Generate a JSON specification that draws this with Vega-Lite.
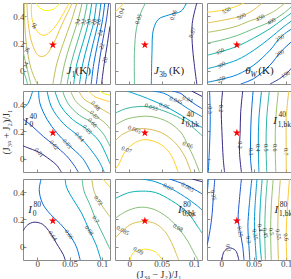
{
"$schema":"https://vega.github.io/schema/vega-lite/v6.json",
"padding":{"left":1,"top":2,"right":0,"bottom":0},
"datasets":{
"c":[
{"p":"A","k":"a1","v":42,"x":-0.001,"y":0.5},{"p":"A","k":"a1","v":42,"x":0.002,"y":0.47},{"p":"A","k":"a1","v":42,"x":0.012,"y":0.445},{"p":"A","k":"a1","v":42,"x":0.025,"y":0.455},{"p":"A","k":"a1","v":42,"x":0.035,"y":0.5},
{"p":"A","k":"a2","v":40,"x":-0.009,"y":0.5},{"p":"A","k":"a2","v":40,"x":-0.008,"y":0.38},{"p":"A","k":"a2","v":40,"x":0,"y":0.29},{"p":"A","k":"a2","v":40,"x":0.01,"y":0.26},{"p":"A","k":"a2","v":40,"x":0.025,"y":0.31},{"p":"A","k":"a2","v":40,"x":0.04,"y":0.42},{"p":"A","k":"a2","v":40,"x":0.049,"y":0.5},
{"p":"A","k":"a3","v":38,"x":-0.016,"y":0.5},{"p":"A","k":"a3","v":38,"x":-0.014,"y":0.35},{"p":"A","k":"a3","v":38,"x":-0.008,"y":0.2},{"p":"A","k":"a3","v":38,"x":0.002,"y":0.11},{"p":"A","k":"a3","v":38,"x":0.012,"y":0.11},{"p":"A","k":"a3","v":38,"x":0.025,"y":0.2},{"p":"A","k":"a3","v":38,"x":0.037,"y":0.33},{"p":"A","k":"a3","v":38,"x":0.054,"y":0.5},
{"p":"A","k":"a4","v":36,"x":-0.02,"y":0.5},{"p":"A","k":"a4","v":36,"x":-0.018,"y":0.25},{"p":"A","k":"a4","v":36,"x":-0.01,"y":0.02},{"p":"A","k":"a4","v":36,"x":0,"y":-0.1},
{"p":"A","k":"a4b","v":36,"x":0.024,"y":-0.1},{"p":"A","k":"a4b","v":36,"x":0.03,"y":0.05},{"p":"A","k":"a4b","v":36,"x":0.04,"y":0.2},{"p":"A","k":"a4b","v":36,"x":0.052,"y":0.36},{"p":"A","k":"a4b","v":36,"x":0.061,"y":0.5},
{"p":"A","k":"a5","v":34,"x":-0.022,"y":0.15},{"p":"A","k":"a5","v":34,"x":-0.02,"y":0.1},{"p":"A","k":"a5","v":34,"x":-0.014,"y":-0.02},{"p":"A","k":"a5","v":34,"x":-0.01,"y":-0.1},
{"p":"A","k":"a6","v":34,"x":0.036,"y":-0.1},{"p":"A","k":"a6","v":34,"x":0.042,"y":0.05},{"p":"A","k":"a6","v":34,"x":0.051,"y":0.2},{"p":"A","k":"a6","v":34,"x":0.062,"y":0.36},{"p":"A","k":"a6","v":34,"x":0.069,"y":0.5},
{"p":"A","k":"a7","v":32,"x":-0.022,"y":0},{"p":"A","k":"a7","v":32,"x":-0.018,"y":-0.05},{"p":"A","k":"a7","v":32,"x":-0.015,"y":-0.1},
{"p":"A","k":"a8","v":32,"x":0.046,"y":-0.1},{"p":"A","k":"a8","v":32,"x":0.052,"y":0.05},{"p":"A","k":"a8","v":32,"x":0.061,"y":0.2},{"p":"A","k":"a8","v":32,"x":0.071,"y":0.36},{"p":"A","k":"a8","v":32,"x":0.077,"y":0.5},
{"p":"A","k":"a9","v":30,"x":0.056,"y":-0.1},{"p":"A","k":"a9","v":30,"x":0.061,"y":0.05},{"p":"A","k":"a9","v":30,"x":0.07,"y":0.2},{"p":"A","k":"a9","v":30,"x":0.079,"y":0.36},{"p":"A","k":"a9","v":30,"x":0.084,"y":0.5},
{"p":"A","k":"a10","v":28,"x":0.065,"y":-0.1},{"p":"A","k":"a10","v":28,"x":0.07,"y":0.05},{"p":"A","k":"a10","v":28,"x":0.078,"y":0.2},{"p":"A","k":"a10","v":28,"x":0.087,"y":0.36},{"p":"A","k":"a10","v":28,"x":0.091,"y":0.5},
{"p":"A","k":"a11","v":26,"x":0.074,"y":-0.1},{"p":"A","k":"a11","v":26,"x":0.079,"y":0.05},{"p":"A","k":"a11","v":26,"x":0.086,"y":0.2},{"p":"A","k":"a11","v":26,"x":0.094,"y":0.36},{"p":"A","k":"a11","v":26,"x":0.098,"y":0.5},
{"p":"A","k":"a12","v":24,"x":0.083,"y":-0.1},{"p":"A","k":"a12","v":24,"x":0.087,"y":0.05},{"p":"A","k":"a12","v":24,"x":0.093,"y":0.2},{"p":"A","k":"a12","v":24,"x":0.1,"y":0.36},{"p":"A","k":"a12","v":24,"x":0.104,"y":0.5},
{"p":"A","k":"a13","v":22,"x":0.091,"y":-0.1},{"p":"A","k":"a13","v":22,"x":0.095,"y":0.05},{"p":"A","k":"a13","v":22,"x":0.1,"y":0.2},{"p":"A","k":"a13","v":22,"x":0.106,"y":0.36},{"p":"A","k":"a13","v":22,"x":0.11,"y":0.5},
{"p":"A","k":"a14","v":20,"x":0.099,"y":-0.1},{"p":"A","k":"a14","v":20,"x":0.103,"y":0.05},{"p":"A","k":"a14","v":20,"x":0.108,"y":0.2},{"p":"A","k":"a14","v":20,"x":0.112,"y":0.33},

{"p":"B","k":"b1","v":-0.04,"x":-0.022,"y":0.435},{"p":"B","k":"b1","v":-0.04,"x":-0.018,"y":0.45},{"p":"B","k":"b1","v":-0.04,"x":-0.012,"y":0.48},{"p":"B","k":"b1","v":-0.04,"x":-0.009,"y":0.5},
{"p":"B","k":"b2","v":-0.05,"x":0.008,"y":-0.1},{"p":"B","k":"b2","v":-0.05,"x":0.008,"y":0.14},{"p":"B","k":"b2","v":-0.05,"x":0.011,"y":0.31},{"p":"B","k":"b2","v":-0.05,"x":0.018,"y":0.43},{"p":"B","k":"b2","v":-0.05,"x":0.025,"y":0.5},
{"p":"B","k":"b3","v":-0.06,"x":0.034,"y":-0.1},{"p":"B","k":"b3","v":-0.06,"x":0.035,"y":0.14},{"p":"B","k":"b3","v":-0.06,"x":0.037,"y":0.3},{"p":"B","k":"b3","v":-0.06,"x":0.045,"y":0.38},{"p":"B","k":"b3","v":-0.06,"x":0.06,"y":0.41},{"p":"B","k":"b3","v":-0.06,"x":0.08,"y":0.44},{"p":"B","k":"b3","v":-0.06,"x":0.088,"y":0.5},
{"p":"B","k":"b4","v":-0.07,"x":0.104,"y":0.5},{"p":"B","k":"b4","v":-0.07,"x":0.097,"y":0.35},{"p":"B","k":"b4","v":-0.07,"x":0.097,"y":0.2},{"p":"B","k":"b4","v":-0.07,"x":0.1,"y":0.05},{"p":"B","k":"b4","v":-0.07,"x":0.104,"y":-0.1},

{"p":"C","k":"c1","v":550,"x":-0.022,"y":0.432},{"p":"C","k":"c1","v":550,"x":0,"y":0.445},{"p":"C","k":"c1","v":550,"x":0.02,"y":0.47},{"p":"C","k":"c1","v":550,"x":0.035,"y":0.5},
{"p":"C","k":"c2","v":500,"x":-0.022,"y":0.352},{"p":"C","k":"c2","v":500,"x":0,"y":0.37},{"p":"C","k":"c2","v":500,"x":0.02,"y":0.39},{"p":"C","k":"c2","v":500,"x":0.035,"y":0.41},{"p":"C","k":"c2","v":500,"x":0.05,"y":0.45},{"p":"C","k":"c2","v":500,"x":0.063,"y":0.5},
{"p":"C","k":"c3","v":450,"x":-0.022,"y":0.282},{"p":"C","k":"c3","v":450,"x":0,"y":0.3},{"p":"C","k":"c3","v":450,"x":0.025,"y":0.33},{"p":"C","k":"c3","v":450,"x":0.045,"y":0.37},{"p":"C","k":"c3","v":450,"x":0.065,"y":0.4},{"p":"C","k":"c3","v":450,"x":0.085,"y":0.45},{"p":"C","k":"c3","v":450,"x":0.098,"y":0.5},
{"p":"C","k":"c4","v":400,"x":-0.022,"y":0.202},{"p":"C","k":"c4","v":400,"x":0,"y":0.225},{"p":"C","k":"c4","v":400,"x":0.025,"y":0.26},{"p":"C","k":"c4","v":400,"x":0.05,"y":0.31},{"p":"C","k":"c4","v":400,"x":0.075,"y":0.36},{"p":"C","k":"c4","v":400,"x":0.095,"y":0.42},{"p":"C","k":"c4","v":400,"x":0.112,"y":0.49},
{"p":"C","k":"c5","v":350,"x":-0.022,"y":0.113},{"p":"C","k":"c5","v":350,"x":0,"y":0.14},{"p":"C","k":"c5","v":350,"x":0.025,"y":0.18},{"p":"C","k":"c5","v":350,"x":0.05,"y":0.24},{"p":"C","k":"c5","v":350,"x":0.075,"y":0.31},{"p":"C","k":"c5","v":350,"x":0.095,"y":0.38},{"p":"C","k":"c5","v":350,"x":0.112,"y":0.44},
{"p":"C","k":"c6","v":300,"x":-0.022,"y":0.013},{"p":"C","k":"c6","v":300,"x":0,"y":0.04},{"p":"C","k":"c6","v":300,"x":0.025,"y":0.08},{"p":"C","k":"c6","v":300,"x":0.05,"y":0.15},{"p":"C","k":"c6","v":300,"x":0.075,"y":0.24},{"p":"C","k":"c6","v":300,"x":0.095,"y":0.32},{"p":"C","k":"c6","v":300,"x":0.112,"y":0.38},
{"p":"C","k":"c7","v":250,"x":-0.022,"y":-0.088},{"p":"C","k":"c7","v":250,"x":0,"y":-0.065},{"p":"C","k":"c7","v":250,"x":0.025,"y":-0.03},{"p":"C","k":"c7","v":250,"x":0.05,"y":0.04},{"p":"C","k":"c7","v":250,"x":0.075,"y":0.15},{"p":"C","k":"c7","v":250,"x":0.092,"y":0.25},{"p":"C","k":"c7","v":250,"x":0.112,"y":0.32},
{"p":"C","k":"c8","v":200,"x":0.03,"y":-0.1},{"p":"C","k":"c8","v":200,"x":0.05,"y":-0.06},{"p":"C","k":"c8","v":200,"x":0.075,"y":0.04},{"p":"C","k":"c8","v":200,"x":0.092,"y":0.14},{"p":"C","k":"c8","v":200,"x":0.112,"y":0.23},
{"p":"C","k":"c9","v":150,"x":0.075,"y":-0.1},{"p":"C","k":"c9","v":150,"x":0.09,"y":-0.06},{"p":"C","k":"c9","v":150,"x":0.103,"y":-0.01},{"p":"C","k":"c9","v":150,"x":0.112,"y":0.04},

{"p":"D","k":"d1","v":0.61,"x":-0.022,"y":0.095},{"p":"D","k":"d1","v":0.61,"x":-0.017,"y":0.084},{"p":"D","k":"d1","v":0.61,"x":0.003,"y":0.045},{"p":"D","k":"d1","v":0.61,"x":0.02,"y":-0.01},{"p":"D","k":"d1","v":0.61,"x":0.03,"y":-0.05},{"p":"D","k":"d1","v":0.61,"x":0.037,"y":-0.1},
{"p":"D","k":"d2","v":0.62,"x":-0.022,"y":0.293},{"p":"D","k":"d2","v":0.62,"x":-0.008,"y":0.24},{"p":"D","k":"d2","v":0.62,"x":0.01,"y":0.16},{"p":"D","k":"d2","v":0.62,"x":0.026,"y":0.1},{"p":"D","k":"d2","v":0.62,"x":0.045,"y":0.02},{"p":"D","k":"d2","v":0.62,"x":0.058,"y":-0.06},{"p":"D","k":"d2","v":0.62,"x":0.063,"y":-0.1},
{"p":"D","k":"d3","v":0.63,"x":0.002,"y":0.5},{"p":"D","k":"d3","v":0.63,"x":0.004,"y":0.41},{"p":"D","k":"d3","v":0.63,"x":0.015,"y":0.29},{"p":"D","k":"d3","v":0.63,"x":0.03,"y":0.19},{"p":"D","k":"d3","v":0.63,"x":0.046,"y":0.11},{"p":"D","k":"d3","v":0.63,"x":0.07,"y":0},{"p":"D","k":"d3","v":0.63,"x":0.082,"y":-0.1},
{"p":"D","k":"d4","v":0.635,"x":-0.022,"y":0.37},{"p":"D","k":"d4","v":0.635,"x":-0.014,"y":0.41},{"p":"D","k":"d4","v":0.635,"x":-0.009,"y":0.47},{"p":"D","k":"d4","v":0.635,"x":-0.007,"y":0.5},
{"p":"D","k":"d5","v":0.64,"x":0.015,"y":0.5},{"p":"D","k":"d5","v":0.64,"x":0.022,"y":0.38},{"p":"D","k":"d5","v":0.64,"x":0.04,"y":0.26},{"p":"D","k":"d5","v":0.64,"x":0.065,"y":0.16},{"p":"D","k":"d5","v":0.64,"x":0.08,"y":0.08},{"p":"D","k":"d5","v":0.64,"x":0.095,"y":-0.02},{"p":"D","k":"d5","v":0.64,"x":0.103,"y":-0.1},
{"p":"D","k":"d6","v":0.65,"x":0.027,"y":0.5},{"p":"D","k":"d6","v":0.65,"x":0.036,"y":0.39},{"p":"D","k":"d6","v":0.65,"x":0.054,"y":0.29},{"p":"D","k":"d6","v":0.65,"x":0.077,"y":0.215},{"p":"D","k":"d6","v":0.65,"x":0.095,"y":0.13},{"p":"D","k":"d6","v":0.65,"x":0.105,"y":0.04},{"p":"D","k":"d6","v":0.65,"x":0.112,"y":-0.04},
{"p":"D","k":"d7","v":0.66,"x":0.039,"y":0.5},{"p":"D","k":"d7","v":0.66,"x":0.047,"y":0.41},{"p":"D","k":"d7","v":0.66,"x":0.065,"y":0.32},{"p":"D","k":"d7","v":0.66,"x":0.085,"y":0.265},{"p":"D","k":"d7","v":0.66,"x":0.102,"y":0.18},{"p":"D","k":"d7","v":0.66,"x":0.112,"y":0.09},
{"p":"D","k":"d8","v":0.67,"x":0.051,"y":0.5},{"p":"D","k":"d8","v":0.67,"x":0.06,"y":0.42},{"p":"D","k":"d8","v":0.67,"x":0.075,"y":0.36},{"p":"D","k":"d8","v":0.67,"x":0.088,"y":0.32},{"p":"D","k":"d8","v":0.67,"x":0.105,"y":0.26},{"p":"D","k":"d8","v":0.67,"x":0.112,"y":0.22},
{"p":"D","k":"d9","v":0.68,"x":0.064,"y":0.5},{"p":"D","k":"d9","v":0.68,"x":0.072,"y":0.44},{"p":"D","k":"d9","v":0.68,"x":0.09,"y":0.39},{"p":"D","k":"d9","v":0.68,"x":0.105,"y":0.35},{"p":"D","k":"d9","v":0.68,"x":0.112,"y":0.33},
{"p":"D","k":"d10","v":0.69,"x":0.079,"y":0.5},{"p":"D","k":"d10","v":0.69,"x":0.088,"y":0.46},{"p":"D","k":"d10","v":0.69,"x":0.105,"y":0.43},{"p":"D","k":"d10","v":0.69,"x":0.112,"y":0.42},
{"p":"D","k":"d11","v":0.7,"x":0.096,"y":0.5},{"p":"D","k":"d11","v":0.7,"x":0.103,"y":0.48},{"p":"D","k":"d11","v":0.7,"x":0.112,"y":0.47},

{"p":"E","k":"e1","v":0.07,"x":-0.022,"y":-0.08},{"p":"E","k":"e1","v":0.07,"x":-0.017,"y":-0.05},{"p":"E","k":"e1","v":0.07,"x":-0.005,"y":0.06},{"p":"E","k":"e1","v":0.07,"x":0.01,"y":0.12},{"p":"E","k":"e1","v":0.07,"x":0.026,"y":0.14},{"p":"E","k":"e1","v":0.07,"x":0.05,"y":0.1},{"p":"E","k":"e1","v":0.07,"x":0.065,"y":0.02},{"p":"E","k":"e1","v":0.07,"x":0.075,"y":-0.1},
{"p":"E","k":"e2","v":0.065,"x":-0.022,"y":0.13},{"p":"E","k":"e2","v":0.065,"x":-0.01,"y":0.18},{"p":"E","k":"e2","v":0.065,"x":0.008,"y":0.215},{"p":"E","k":"e2","v":0.065,"x":0.026,"y":0.22},{"p":"E","k":"e2","v":0.065,"x":0.05,"y":0.19},{"p":"E","k":"e2","v":0.065,"x":0.07,"y":0.12},{"p":"E","k":"e2","v":0.065,"x":0.085,"y":0.02},{"p":"E","k":"e2","v":0.065,"x":0.095,"y":-0.1},
{"p":"E","k":"e3","v":0.06,"x":-0.022,"y":0.247},{"p":"E","k":"e3","v":0.06,"x":-0.005,"y":0.29},{"p":"E","k":"e3","v":0.06,"x":0.015,"y":0.31},{"p":"E","k":"e3","v":0.06,"x":0.035,"y":0.31},{"p":"E","k":"e3","v":0.06,"x":0.06,"y":0.27},{"p":"E","k":"e3","v":0.06,"x":0.08,"y":0.19},{"p":"E","k":"e3","v":0.06,"x":0.09,"y":0.1},{"p":"E","k":"e3","v":0.06,"x":0.1,"y":0},{"p":"E","k":"e3","v":0.06,"x":0.108,"y":-0.1},
{"p":"E","k":"e4","v":0.055,"x":-0.022,"y":0.335},{"p":"E","k":"e4","v":0.055,"x":-0.005,"y":0.37},{"p":"E","k":"e4","v":0.055,"x":0.015,"y":0.385},{"p":"E","k":"e4","v":0.055,"x":0.034,"y":0.38},{"p":"E","k":"e4","v":0.055,"x":0.06,"y":0.34},{"p":"E","k":"e4","v":0.055,"x":0.085,"y":0.28},{"p":"E","k":"e4","v":0.055,"x":0.105,"y":0.2},{"p":"E","k":"e4","v":0.055,"x":0.112,"y":0.17},
{"p":"E","k":"e5","v":0.05,"x":-0.004,"y":0.5},{"p":"E","k":"e5","v":0.05,"x":0.02,"y":0.46},{"p":"E","k":"e5","v":0.05,"x":0.054,"y":0.39},{"p":"E","k":"e5","v":0.05,"x":0.08,"y":0.32},{"p":"E","k":"e5","v":0.05,"x":0.1,"y":0.26},{"p":"E","k":"e5","v":0.05,"x":0.112,"y":0.23},
{"p":"E","k":"e6","v":0.045,"x":0.036,"y":0.5},{"p":"E","k":"e6","v":0.045,"x":0.055,"y":0.48},{"p":"E","k":"e6","v":0.045,"x":0.072,"y":0.43},{"p":"E","k":"e6","v":0.045,"x":0.09,"y":0.37},{"p":"E","k":"e6","v":0.045,"x":0.112,"y":0.31},
{"p":"E","k":"e7","v":0.04,"x":0.066,"y":0.5},{"p":"E","k":"e7","v":0.04,"x":0.08,"y":0.48},{"p":"E","k":"e7","v":0.04,"x":0.09,"y":0.44},{"p":"E","k":"e7","v":0.04,"x":0.105,"y":0.39},{"p":"E","k":"e7","v":0.04,"x":0.112,"y":0.37},
{"p":"E","k":"e8","v":0.035,"x":0.096,"y":0.5},{"p":"E","k":"e8","v":0.035,"x":0.112,"y":0.46},

{"p":"F","k":"f1","v":0.3,"x":-0.018,"y":0.5},{"p":"F","k":"f1","v":0.3,"x":-0.017,"y":0.3},{"p":"F","k":"f1","v":0.3,"x":-0.018,"y":0.1},{"p":"F","k":"f1","v":0.3,"x":-0.02,"y":-0.1},
{"p":"F","k":"f2","v":0.2,"x":0.002,"y":0.5},{"p":"F","k":"f2","v":0.2,"x":0,"y":0.37},{"p":"F","k":"f2","v":0.2,"x":0.001,"y":0.2},{"p":"F","k":"f2","v":0.2,"x":0.003,"y":0},{"p":"F","k":"f2","v":0.2,"x":0.005,"y":-0.1},
{"p":"F","k":"f3","v":0.2,"x":0.033,"y":0.5},{"p":"F","k":"f3","v":0.2,"x":0.03,"y":0.35},{"p":"F","k":"f3","v":0.2,"x":0.029,"y":0.19},{"p":"F","k":"f3","v":0.2,"x":0.028,"y":0.05},{"p":"F","k":"f3","v":0.2,"x":0.031,"y":-0.1},
{"p":"F","k":"f4","v":0.3,"x":0.049,"y":0.5},{"p":"F","k":"f4","v":0.3,"x":0.046,"y":0.3},{"p":"F","k":"f4","v":0.3,"x":0.045,"y":0.1},{"p":"F","k":"f4","v":0.3,"x":0.045,"y":0},{"p":"F","k":"f4","v":0.3,"x":0.047,"y":-0.1},
{"p":"F","k":"f5","v":0.4,"x":0.062,"y":0.5},{"p":"F","k":"f5","v":0.4,"x":0.058,"y":0.3},{"p":"F","k":"f5","v":0.4,"x":0.057,"y":0.1},{"p":"F","k":"f5","v":0.4,"x":0.058,"y":-0.1},
{"p":"F","k":"f6","v":0.5,"x":0.074,"y":0.5},{"p":"F","k":"f6","v":0.5,"x":0.07,"y":0.3},{"p":"F","k":"f6","v":0.5,"x":0.069,"y":0.1},{"p":"F","k":"f6","v":0.5,"x":0.07,"y":-0.1},
{"p":"F","k":"f7","v":0.6,"x":0.088,"y":0.5},{"p":"F","k":"f7","v":0.6,"x":0.084,"y":0.3},{"p":"F","k":"f7","v":0.6,"x":0.083,"y":0.1},{"p":"F","k":"f7","v":0.6,"x":0.084,"y":-0.1},
{"p":"F","k":"f8","v":0.7,"x":0.104,"y":0.5},{"p":"F","k":"f8","v":0.7,"x":0.1,"y":0.3},{"p":"F","k":"f8","v":0.7,"x":0.1,"y":0.1},{"p":"F","k":"f8","v":0.7,"x":0.1,"y":-0.1},

{"p":"G","k":"g1","v":0.64,"x":-0.022,"y":0.115},{"p":"G","k":"g1","v":0.64,"x":-0.015,"y":0.16},{"p":"G","k":"g1","v":0.64,"x":-0.005,"y":0.18},{"p":"G","k":"g1","v":0.64,"x":0.008,"y":0.165},{"p":"G","k":"g1","v":0.64,"x":0.02,"y":0.1},{"p":"G","k":"g1","v":0.64,"x":0.03,"y":0.02},{"p":"G","k":"g1","v":0.64,"x":0.04,"y":-0.06},{"p":"G","k":"g1","v":0.64,"x":0.043,"y":-0.1},
{"p":"G","k":"g2","v":0.66,"x":0.006,"y":0.5},{"p":"G","k":"g2","v":0.66,"x":0.003,"y":0.42},{"p":"G","k":"g2","v":0.66,"x":0.008,"y":0.32},{"p":"G","k":"g2","v":0.66,"x":0.02,"y":0.24},{"p":"G","k":"g2","v":0.66,"x":0.035,"y":0.17},{"p":"G","k":"g2","v":0.66,"x":0.049,"y":0.09},{"p":"G","k":"g2","v":0.66,"x":0.06,"y":0},{"p":"G","k":"g2","v":0.66,"x":0.066,"y":-0.1},
{"p":"G","k":"g3","v":0.68,"x":0.043,"y":0.5},{"p":"G","k":"g3","v":0.68,"x":0.045,"y":0.44},{"p":"G","k":"g3","v":0.68,"x":0.055,"y":0.35},{"p":"G","k":"g3","v":0.68,"x":0.068,"y":0.25},{"p":"G","k":"g3","v":0.68,"x":0.08,"y":0.12},{"p":"G","k":"g3","v":0.68,"x":0.09,"y":0.02},{"p":"G","k":"g3","v":0.68,"x":0.098,"y":-0.1},
{"p":"G","k":"g4","v":0.7,"x":0.069,"y":0.5},{"p":"G","k":"g4","v":0.7,"x":0.072,"y":0.41},{"p":"G","k":"g4","v":0.7,"x":0.082,"y":0.3},{"p":"G","k":"g4","v":0.7,"x":0.09,"y":0.2},{"p":"G","k":"g4","v":0.7,"x":0.1,"y":0.1},{"p":"G","k":"g4","v":0.7,"x":0.11,"y":0},{"p":"G","k":"g4","v":0.7,"x":0.112,"y":-0.02},
{"p":"G","k":"g5","v":0.72,"x":0.084,"y":0.5},{"p":"G","k":"g5","v":0.72,"x":0.088,"y":0.4},{"p":"G","k":"g5","v":0.72,"x":0.1,"y":0.3},{"p":"G","k":"g5","v":0.72,"x":0.112,"y":0.22},
{"p":"G","k":"g6","v":0.74,"x":0.101,"y":0.5},{"p":"G","k":"g6","v":0.74,"x":0.112,"y":0.44},

{"p":"H","k":"h1","v":0.09,"x":0.001,"y":-0.1},{"p":"H","k":"h1","v":0.09,"x":0.006,"y":-0.045},{"p":"H","k":"h1","v":0.09,"x":0.014,"y":-0.03},{"p":"H","k":"h1","v":0.09,"x":0.025,"y":-0.02},{"p":"H","k":"h1","v":0.09,"x":0.04,"y":-0.04},{"p":"H","k":"h1","v":0.09,"x":0.051,"y":-0.1},
{"p":"H","k":"h2","v":0.085,"x":-0.022,"y":0.06},{"p":"H","k":"h2","v":0.085,"x":-0.01,"y":0.12},{"p":"H","k":"h2","v":0.085,"x":0.005,"y":0.17},{"p":"H","k":"h2","v":0.085,"x":0.023,"y":0.185},{"p":"H","k":"h2","v":0.085,"x":0.04,"y":0.17},{"p":"H","k":"h2","v":0.085,"x":0.055,"y":0.11},{"p":"H","k":"h2","v":0.085,"x":0.065,"y":0.03},{"p":"H","k":"h2","v":0.085,"x":0.072,"y":-0.05},{"p":"H","k":"h2","v":0.085,"x":0.076,"y":-0.1},
{"p":"H","k":"h3","v":0.08,"x":-0.022,"y":0.207},{"p":"H","k":"h3","v":0.08,"x":-0.005,"y":0.26},{"p":"H","k":"h3","v":0.08,"x":0.015,"y":0.29},{"p":"H","k":"h3","v":0.08,"x":0.035,"y":0.28},{"p":"H","k":"h3","v":0.08,"x":0.055,"y":0.23},{"p":"H","k":"h3","v":0.08,"x":0.075,"y":0.14},{"p":"H","k":"h3","v":0.08,"x":0.09,"y":0.04},{"p":"H","k":"h3","v":0.08,"x":0.1,"y":-0.05},{"p":"H","k":"h3","v":0.08,"x":0.106,"y":-0.1},
{"p":"H","k":"h4","v":0.075,"x":-0.022,"y":0.355},{"p":"H","k":"h4","v":0.075,"x":0,"y":0.4},{"p":"H","k":"h4","v":0.075,"x":0.02,"y":0.41},{"p":"H","k":"h4","v":0.075,"x":0.04,"y":0.4},{"p":"H","k":"h4","v":0.075,"x":0.065,"y":0.34},{"p":"H","k":"h4","v":0.075,"x":0.09,"y":0.25},{"p":"H","k":"h4","v":0.075,"x":0.105,"y":0.15},{"p":"H","k":"h4","v":0.075,"x":0.112,"y":0.1},
{"p":"H","k":"h5","v":0.07,"x":0.02,"y":0.5},{"p":"H","k":"h5","v":0.07,"x":0.04,"y":0.48},{"p":"H","k":"h5","v":0.07,"x":0.06,"y":0.44},{"p":"H","k":"h5","v":0.07,"x":0.085,"y":0.37},{"p":"H","k":"h5","v":0.07,"x":0.105,"y":0.3},{"p":"H","k":"h5","v":0.07,"x":0.112,"y":0.27},
{"p":"H","k":"h6","v":0.065,"x":0.062,"y":0.5},{"p":"H","k":"h6","v":0.065,"x":0.085,"y":0.46},{"p":"H","k":"h6","v":0.065,"x":0.105,"y":0.41},{"p":"H","k":"h6","v":0.065,"x":0.112,"y":0.39},
{"p":"H","k":"h7","v":0.06,"x":0.097,"y":0.5},{"p":"H","k":"h7","v":0.06,"x":0.112,"y":0.48},

{"p":"I","k":"i1","v":0.3,"x":-0.02,"y":0.5},{"p":"I","k":"i1","v":0.3,"x":-0.021,"y":0.43},{"p":"I","k":"i1","v":0.3,"x":-0.022,"y":0.38},
{"p":"I","k":"i2","v":0.25,"x":-0.01,"y":0.5},{"p":"I","k":"i2","v":0.25,"x":-0.012,"y":0.38},{"p":"I","k":"i2","v":0.25,"x":-0.015,"y":0.2},{"p":"I","k":"i2","v":0.25,"x":-0.02,"y":0.05},{"p":"I","k":"i2","v":0.25,"x":-0.022,"y":0.01},
{"p":"I","k":"i3","v":0.2,"x":0.001,"y":-0.1},{"p":"I","k":"i3","v":0.2,"x":0.004,"y":-0.04},{"p":"I","k":"i3","v":0.2,"x":0.012,"y":-0.01},{"p":"I","k":"i3","v":0.2,"x":0.022,"y":-0.03},{"p":"I","k":"i3","v":0.2,"x":0.027,"y":-0.1},
{"p":"I","k":"i4","v":0.25,"x":0.031,"y":0.5},{"p":"I","k":"i4","v":0.25,"x":0.028,"y":0.35},{"p":"I","k":"i4","v":0.25,"x":0.026,"y":0.2},{"p":"I","k":"i4","v":0.25,"x":0.029,"y":0.11},{"p":"I","k":"i4","v":0.25,"x":0.033,"y":0},{"p":"I","k":"i4","v":0.25,"x":0.035,"y":-0.1},
{"p":"I","k":"i5","v":0.3,"x":0.047,"y":0.5},{"p":"I","k":"i5","v":0.3,"x":0.043,"y":0.3},{"p":"I","k":"i5","v":0.3,"x":0.041,"y":0.15},{"p":"I","k":"i5","v":0.3,"x":0.042,"y":0.05},{"p":"I","k":"i5","v":0.3,"x":0.044,"y":-0.1},
{"p":"I","k":"i6","v":0.35,"x":0.055,"y":0.5},{"p":"I","k":"i6","v":0.35,"x":0.052,"y":0.3},{"p":"I","k":"i6","v":0.35,"x":0.051,"y":0.15},{"p":"I","k":"i6","v":0.35,"x":0.052,"y":0.05},{"p":"I","k":"i6","v":0.35,"x":0.054,"y":-0.1},
{"p":"I","k":"i7","v":0.4,"x":0.063,"y":0.5},{"p":"I","k":"i7","v":0.4,"x":0.06,"y":0.3},{"p":"I","k":"i7","v":0.4,"x":0.059,"y":0.14},{"p":"I","k":"i7","v":0.4,"x":0.06,"y":0},{"p":"I","k":"i7","v":0.4,"x":0.062,"y":-0.1},
{"p":"I","k":"i8","v":0.45,"x":0.071,"y":0.5},{"p":"I","k":"i8","v":0.45,"x":0.068,"y":0.3},{"p":"I","k":"i8","v":0.45,"x":0.067,"y":0.1},{"p":"I","k":"i8","v":0.45,"x":0.068,"y":-0.1},
{"p":"I","k":"i9","v":0.5,"x":0.08,"y":0.5},{"p":"I","k":"i9","v":0.5,"x":0.077,"y":0.3},{"p":"I","k":"i9","v":0.5,"x":0.076,"y":0.1},{"p":"I","k":"i9","v":0.5,"x":0.077,"y":-0.1},
{"p":"I","k":"i10","v":0.55,"x":0.091,"y":0.5},{"p":"I","k":"i10","v":0.55,"x":0.088,"y":0.3},{"p":"I","k":"i10","v":0.55,"x":0.087,"y":0.1},{"p":"I","k":"i10","v":0.55,"x":0.088,"y":-0.1},
{"p":"I","k":"i11","v":0.6,"x":0.105,"y":0.5},{"p":"I","k":"i11","v":0.6,"x":0.102,"y":0.3},{"p":"I","k":"i11","v":0.6,"x":0.1,"y":0.1},{"p":"I","k":"i11","v":0.6,"x":0.101,"y":-0.1}
],
"t":[
{"p":"A","s":"40","x":-0.005,"y":0.33},{"p":"A","s":"36","x":-0.016,"y":0.15},{"p":"A","s":"34","x":-0.018,"y":0.04},{"p":"A","s":"34","x":0.062,"y":0.36},{"p":"A","s":"32","x":0.071,"y":0.36},{"p":"A","s":"30","x":0.079,"y":0.36},{"p":"A","s":"28","x":0.087,"y":0.36},{"p":"A","s":"26","x":0.094,"y":0.36},{"p":"A","s":"24","x":0.097,"y":0.28},{"p":"A","s":"22","x":0.099,"y":0.18},{"p":"A","s":"20","x":0.104,"y":0.08},
{"p":"B","s":"0.04","x":-0.013,"y":0.425},{"p":"B","s":"0.05","x":0.014,"y":0.38},{"p":"B","s":"0.06","x":0.068,"y":0.41},{"p":"B","s":"0.07","x":0.097,"y":0.28},
{"p":"C","s":"550","x":0.008,"y":0.445},{"p":"C","s":"500","x":0.031,"y":0.4},{"p":"C","s":"450","x":0.06,"y":0.39},{"p":"C","s":"400","x":0.077,"y":0.365},{"p":"C","s":"350","x":-0.002,"y":0.14},{"p":"C","s":"300","x":0,"y":0.04},{"p":"C","s":"250","x":0,"y":-0.065},{"p":"C","s":"250","x":0.09,"y":0.24},{"p":"C","s":"200","x":0.09,"y":0.13},{"p":"C","s":"150","x":0.099,"y":-0.03},
{"p":"D","s":"0.61","x":0.003,"y":0.045},{"p":"D","s":"0.62","x":0.026,"y":0.1},{"p":"D","s":"0.63","x":0.046,"y":0.11},{"p":"D","s":"0.64","x":0.065,"y":0.16},{"p":"D","s":"0.65","x":0.077,"y":0.215},{"p":"D","s":"0.66","x":0.085,"y":0.265},{"p":"D","s":"0.67","x":0.088,"y":0.32},{"p":"D","s":"0.68","x":0.09,"y":0.39},
{"p":"E","s":"0.07","x":-0.004,"y":0.065},{"p":"E","s":"0.065","x":0.008,"y":0.215},{"p":"E","s":"0.06","x":0.09,"y":0.1},{"p":"E","s":"0.055","x":0.034,"y":0.38},{"p":"E","s":"0.05","x":0.054,"y":0.39},{"p":"E","s":"0.045","x":0.072,"y":0.43},{"p":"E","s":"0.04","x":0.09,"y":0.44},
{"p":"F","s":"0.3","x":-0.017,"y":0.36},{"p":"F","s":"0.2","x":0,"y":0.37},{"p":"F","s":"0.2","x":0.029,"y":0.1},{"p":"F","s":"0.3","x":0.045,"y":0.05},{"p":"F","s":"0.4","x":0.057,"y":0.08},{"p":"F","s":"0.5","x":0.069,"y":0.08},{"p":"F","s":"0.6","x":0.083,"y":0.08},{"p":"F","s":"0.7","x":0.1,"y":0.05},
{"p":"G","s":"0.64","x":0.024,"y":0.08},{"p":"G","s":"0.66","x":0.049,"y":0.09},{"p":"G","s":"0.68","x":0.08,"y":0.12},{"p":"G","s":"0.7","x":0.09,"y":0.2},{"p":"G","s":"0.72","x":0.094,"y":0.34},
{"p":"H","s":"0.085","x":-0.01,"y":0.12},{"p":"H","s":"0.09","x":0.014,"y":-0.03},{"p":"H","s":"0.08","x":0.075,"y":0.14},{"p":"H","s":"0.075","x":0.09,"y":0.25},{"p":"H","s":"0.07","x":0.06,"y":0.44},{"p":"H","s":"0.065","x":0.09,"y":0.44},
{"p":"I","s":"0.25","x":-0.012,"y":0.38},{"p":"I","s":"0.2","x":0.011,"y":-0.01},{"p":"I","s":"0.25","x":0.029,"y":0.11},{"p":"I","s":"0.3","x":0.042,"y":0.05},{"p":"I","s":"0.35","x":0.052,"y":0.09},{"p":"I","s":"0.4","x":0.06,"y":0.14},{"p":"I","s":"0.45","x":0.068,"y":0.1},{"p":"I","s":"0.5","x":0.077,"y":0.11},{"p":"I","s":"0.55","x":0.088,"y":0.09},{"p":"I","s":"0.6","x":0.1,"y":0.07}
],
"n":[
{"p":"A","k":"m","s":"J","x":0.045,"y":-0.007},{"p":"A","k":"b","s":"1","x":0.053,"y":-0.03},{"p":"A","k":"t","s":"(K)","x":0.059,"y":-0.007},
{"p":"B","k":"m","s":"J","x":0.038,"y":-0.007},{"p":"B","k":"b","s":"3b","x":0.046,"y":-0.03},{"p":"B","k":"t","s":"(K)","x":0.061,"y":-0.007},
{"p":"C","k":"m","s":"θ","x":0.037,"y":-0.007},{"p":"C","k":"b","s":"W","x":0.045,"y":-0.03},{"p":"C","k":"t","s":"(K)","x":0.057,"y":-0.007},
{"p":"D","k":"m","s":"I","x":-0.02,"y":0.27},{"p":"D","k":"b","s":"40","x":-0.012,"y":0.31},{"p":"D","k":"b","s":"0","x":-0.012,"y":0.245},
{"p":"E","k":"m","s":"I","x":0.08,"y":0.28},{"p":"E","k":"b","s":"40","x":0.088,"y":0.32},{"p":"E","k":"b","s":"0,bk","x":0.087,"y":0.245},
{"p":"F","k":"m","s":"I","x":0.08,"y":0.28},{"p":"F","k":"b","s":"40","x":0.088,"y":0.32},{"p":"F","k":"b","s":"1,bk","x":0.087,"y":0.245},
{"p":"G","k":"m","s":"I","x":-0.014,"y":0.27},{"p":"G","k":"b","s":"80","x":-0.006,"y":0.305},{"p":"G","k":"b","s":"0","x":-0.007,"y":0.24},
{"p":"H","k":"m","s":"I","x":0.075,"y":0.27},{"p":"H","k":"b","s":"80","x":0.083,"y":0.305},{"p":"H","k":"b","s":"0,bk","x":0.082,"y":0.24},
{"p":"I","k":"m","s":"I","x":0.082,"y":0.27},{"p":"I","k":"b","s":"80","x":0.09,"y":0.305},{"p":"I","k":"b","s":"1,bk","x":0.089,"y":0.24}
],
"s":[{"x":0.024,"y":0.19}]
},
"columns":3,
"spacing":{"row":5,"column":3},
"concat":[
{"width":87,"height":81,
"encoding":{"x":{"field":"x","type":"quantitative","scale":{"domain":[-0.022,0.112],"nice":false,"zero":false},"axis":{"values":[0,0.05,0.1],"format":"~g","labels":false,"title":null}},
"y":{"field":"y","type":"quantitative","scale":{"domain":[-0.1,0.5],"nice":false,"zero":false},"axis":{"values":[0,0.2,0.4],"format":"~g","title":null}}},
"layer":[
{"data":{"name":"c"},"transform":[{"filter":"datum.p=='A'"}],"mark":{"type":"line","clip":true,"interpolate":"catmull-rom","strokeWidth":1},"encoding":{"color":{"field":"v","type":"quantitative","scale":{"domain":[20,42],"range":["#352a87","#0f5cdd","#1481d6","#06a4ca","#2eb7a4","#87bf77","#d1bb59","#fec832","#f9fb0e"]},"legend":null},"detail":{"field":"k"},"order":{"value":null}}},
{"data":{"name":"t"},"transform":[{"filter":"datum.p=='A'"}],"mark":{"type":"text","angle":-70,"fontSize":6,"font":"Liberation Serif","color":"#333"},"encoding":{"text":{"field":"s"}}},
{"data":{"name":"n"},"transform":[{"filter":"datum.p=='A' && datum.k=='m'"}],"mark":{"type":"text","align":"left","fontSize":11,"font":"Liberation Serif","fontStyle":"italic","color":"#222"},"encoding":{"text":{"field":"s"}}},
{"data":{"name":"n"},"transform":[{"filter":"datum.p=='A' && datum.k=='b'"}],"mark":{"type":"text","align":"left","fontSize":7.5,"font":"Liberation Serif","color":"#222"},"encoding":{"text":{"field":"s"}}},
{"data":{"name":"n"},"transform":[{"filter":"datum.p=='A' && datum.k=='t'"}],"mark":{"type":"text","align":"left","fontSize":11,"font":"Liberation Serif","color":"#222"},"encoding":{"text":{"field":"s"}}},
{"data":{"name":"s"},"mark":{"type":"point","shape":"M0,-1L0.2245,-0.309L0.951,-0.309L0.3633,0.118L0.5878,0.809L0,0.382L-0.5878,0.809L-0.3633,0.118L-0.951,-0.309L-0.2245,-0.309Z","filled":true,"color":"#ff0000","size":70,"opacity":1},"encoding":{}}
]},
{"width":87,"height":81,
"encoding":{"x":{"field":"x","type":"quantitative","scale":{"domain":[-0.022,0.112],"nice":false,"zero":false},"axis":{"values":[0,0.05,0.1],"format":"~g","labels":false,"title":null}},
"y":{"field":"y","type":"quantitative","scale":{"domain":[-0.1,0.5],"nice":false,"zero":false},"axis":{"values":[0,0.2,0.4],"format":"~g","labels":false,"title":null}}},
"layer":[
{"data":{"name":"c"},"transform":[{"filter":"datum.p=='B'"}],"mark":{"type":"line","clip":true,"interpolate":"catmull-rom","strokeWidth":1},"encoding":{"color":{"field":"v","type":"quantitative","scale":{"domain":[-0.07,-0.035],"range":["#352a87","#0f5cdd","#1481d6","#06a4ca","#2eb7a4","#87bf77","#d1bb59","#fec832","#f9fb0e"]},"legend":null},"detail":{"field":"k"},"order":{"value":null}}},
{"data":{"name":"t"},"transform":[{"filter":"datum.p=='B'"}],"mark":{"type":"text","angle":-70,"fontSize":6,"font":"Liberation Serif","color":"#333"},"encoding":{"text":{"field":"s"}}},
{"data":{"name":"n"},"transform":[{"filter":"datum.p=='B' && datum.k=='m'"}],"mark":{"type":"text","align":"left","fontSize":11,"font":"Liberation Serif","fontStyle":"italic","color":"#222"},"encoding":{"text":{"field":"s"}}},
{"data":{"name":"n"},"transform":[{"filter":"datum.p=='B' && datum.k=='b'"}],"mark":{"type":"text","align":"left","fontSize":7.5,"font":"Liberation Serif","color":"#222"},"encoding":{"text":{"field":"s"}}},
{"data":{"name":"n"},"transform":[{"filter":"datum.p=='B' && datum.k=='t'"}],"mark":{"type":"text","align":"left","fontSize":11,"font":"Liberation Serif","color":"#222"},"encoding":{"text":{"field":"s"}}},
{"data":{"name":"s"},"mark":{"type":"point","shape":"M0,-1L0.2245,-0.309L0.951,-0.309L0.3633,0.118L0.5878,0.809L0,0.382L-0.5878,0.809L-0.3633,0.118L-0.951,-0.309L-0.2245,-0.309Z","filled":true,"color":"#ff0000","size":70,"opacity":1},"encoding":{}}
]},
{"width":87,"height":81,
"encoding":{"x":{"field":"x","type":"quantitative","scale":{"domain":[-0.022,0.112],"nice":false,"zero":false},"axis":{"values":[0,0.05,0.1],"format":"~g","labels":false,"title":null}},
"y":{"field":"y","type":"quantitative","scale":{"domain":[-0.1,0.5],"nice":false,"zero":false},"axis":{"values":[0,0.2,0.4],"format":"~g","labels":false,"title":null}}},
"layer":[
{"data":{"name":"c"},"transform":[{"filter":"datum.p=='C'"}],"mark":{"type":"line","clip":true,"interpolate":"catmull-rom","strokeWidth":1},"encoding":{"color":{"field":"v","type":"quantitative","scale":{"domain":[130,590],"range":["#352a87","#0f5cdd","#1481d6","#06a4ca","#2eb7a4","#87bf77","#d1bb59","#fec832","#f9fb0e"]},"legend":null},"detail":{"field":"k"},"order":{"value":null}}},
{"data":{"name":"t"},"transform":[{"filter":"datum.p=='C'"}],"mark":{"type":"text","angle":-30,"fontSize":6,"font":"Liberation Serif","color":"#333"},"encoding":{"text":{"field":"s"}}},
{"data":{"name":"n"},"transform":[{"filter":"datum.p=='C' && datum.k=='m'"}],"mark":{"type":"text","align":"left","fontSize":11,"font":"Liberation Serif","fontStyle":"italic","color":"#222"},"encoding":{"text":{"field":"s"}}},
{"data":{"name":"n"},"transform":[{"filter":"datum.p=='C' && datum.k=='b'"}],"mark":{"type":"text","align":"left","fontSize":7.5,"font":"Liberation Serif","fontStyle":"italic","color":"#222"},"encoding":{"text":{"field":"s"}}},
{"data":{"name":"n"},"transform":[{"filter":"datum.p=='C' && datum.k=='t'"}],"mark":{"type":"text","align":"left","fontSize":11,"font":"Liberation Serif","color":"#222"},"encoding":{"text":{"field":"s"}}},
{"data":{"name":"s"},"mark":{"type":"point","shape":"M0,-1L0.2245,-0.309L0.951,-0.309L0.3633,0.118L0.5878,0.809L0,0.382L-0.5878,0.809L-0.3633,0.118L-0.951,-0.309L-0.2245,-0.309Z","filled":true,"color":"#ff0000","size":70,"opacity":1},"encoding":{}}
]},
{"width":87,"height":81,
"encoding":{"x":{"field":"x","type":"quantitative","scale":{"domain":[-0.022,0.112],"nice":false,"zero":false},"axis":{"values":[0,0.05,0.1],"format":"~g","labels":false,"title":null}},
"y":{"field":"y","type":"quantitative","scale":{"domain":[-0.1,0.5],"nice":false,"zero":false},"axis":{"values":[0,0.2,0.4],"format":"~g","title":"(J₃ₐ + J₂)/J₁"}}},
"layer":[
{"data":{"name":"c"},"transform":[{"filter":"datum.p=='D'"}],"mark":{"type":"line","clip":true,"interpolate":"catmull-rom","strokeWidth":1},"encoding":{"color":{"field":"v","type":"quantitative","scale":{"domain":[0.61,0.7],"range":["#352a87","#0f5cdd","#1481d6","#06a4ca","#2eb7a4","#87bf77","#d1bb59","#fec832","#f9fb0e"]},"legend":null},"detail":{"field":"k"},"order":{"value":null}}},
{"data":{"name":"t"},"transform":[{"filter":"datum.p=='D'"}],"mark":{"type":"text","angle":50,"fontSize":6,"font":"Liberation Serif","color":"#333"},"encoding":{"text":{"field":"s"}}},
{"data":{"name":"n"},"transform":[{"filter":"datum.p=='D' && datum.k=='m'"}],"mark":{"type":"text","align":"left","fontSize":11,"font":"Liberation Serif","fontStyle":"italic","color":"#222"},"encoding":{"text":{"field":"s"}}},
{"data":{"name":"n"},"transform":[{"filter":"datum.p=='D' && datum.k=='b'"}],"mark":{"type":"text","align":"left","fontSize":7.5,"font":"Liberation Serif","color":"#222"},"encoding":{"text":{"field":"s"}}},
{"data":{"name":"s"},"mark":{"type":"point","shape":"M0,-1L0.2245,-0.309L0.951,-0.309L0.3633,0.118L0.5878,0.809L0,0.382L-0.5878,0.809L-0.3633,0.118L-0.951,-0.309L-0.2245,-0.309Z","filled":true,"color":"#ff0000","size":70,"opacity":1},"encoding":{}}
]},
{"width":87,"height":81,
"encoding":{"x":{"field":"x","type":"quantitative","scale":{"domain":[-0.022,0.112],"nice":false,"zero":false},"axis":{"values":[0,0.05,0.1],"format":"~g","labels":false,"title":null}},
"y":{"field":"y","type":"quantitative","scale":{"domain":[-0.1,0.5],"nice":false,"zero":false},"axis":{"values":[0,0.2,0.4],"format":"~g","labels":false,"title":null}}},
"layer":[
{"data":{"name":"c"},"transform":[{"filter":"datum.p=='E'"}],"mark":{"type":"line","clip":true,"interpolate":"catmull-rom","strokeWidth":1},"encoding":{"color":{"field":"v","type":"quantitative","scale":{"domain":[0.035,0.074],"range":["#352a87","#0f5cdd","#1481d6","#06a4ca","#2eb7a4","#87bf77","#d1bb59","#fec832","#f9fb0e"]},"legend":null},"detail":{"field":"k"},"order":{"value":null}}},
{"data":{"name":"t"},"transform":[{"filter":"datum.p=='E'"}],"mark":{"type":"text","angle":20,"fontSize":6,"font":"Liberation Serif","color":"#333"},"encoding":{"text":{"field":"s"}}},
{"data":{"name":"n"},"transform":[{"filter":"datum.p=='E' && datum.k=='m'"}],"mark":{"type":"text","align":"left","fontSize":11,"font":"Liberation Serif","fontStyle":"italic","color":"#222"},"encoding":{"text":{"field":"s"}}},
{"data":{"name":"n"},"transform":[{"filter":"datum.p=='E' && datum.k=='b'"}],"mark":{"type":"text","align":"left","fontSize":7.5,"font":"Liberation Serif","color":"#222"},"encoding":{"text":{"field":"s"}}},
{"data":{"name":"s"},"mark":{"type":"point","shape":"M0,-1L0.2245,-0.309L0.951,-0.309L0.3633,0.118L0.5878,0.809L0,0.382L-0.5878,0.809L-0.3633,0.118L-0.951,-0.309L-0.2245,-0.309Z","filled":true,"color":"#ff0000","size":70,"opacity":1},"encoding":{}}
]},
{"width":87,"height":81,
"encoding":{"x":{"field":"x","type":"quantitative","scale":{"domain":[-0.022,0.112],"nice":false,"zero":false},"axis":{"values":[0,0.05,0.1],"format":"~g","labels":false,"title":null}},
"y":{"field":"y","type":"quantitative","scale":{"domain":[-0.1,0.5],"nice":false,"zero":false},"axis":{"values":[0,0.2,0.4],"format":"~g","labels":false,"title":null}}},
"layer":[
{"data":{"name":"c"},"transform":[{"filter":"datum.p=='F'"}],"mark":{"type":"line","clip":true,"interpolate":"catmull-rom","strokeWidth":1},"encoding":{"color":{"field":"v","type":"quantitative","scale":{"domain":[0.2,0.8],"range":["#352a87","#0f5cdd","#1481d6","#06a4ca","#2eb7a4","#87bf77","#d1bb59","#fec832","#f9fb0e"]},"legend":null},"detail":{"field":"k"},"order":{"value":null}}},
{"data":{"name":"t"},"transform":[{"filter":"datum.p=='F'"}],"mark":{"type":"text","angle":90,"fontSize":6,"font":"Liberation Serif","color":"#333"},"encoding":{"text":{"field":"s"}}},
{"data":{"name":"n"},"transform":[{"filter":"datum.p=='F' && datum.k=='m'"}],"mark":{"type":"text","align":"left","fontSize":11,"font":"Liberation Serif","fontStyle":"italic","color":"#222"},"encoding":{"text":{"field":"s"}}},
{"data":{"name":"n"},"transform":[{"filter":"datum.p=='F' && datum.k=='b'"}],"mark":{"type":"text","align":"left","fontSize":7.5,"font":"Liberation Serif","color":"#222"},"encoding":{"text":{"field":"s"}}},
{"data":{"name":"s"},"mark":{"type":"point","shape":"M0,-1L0.2245,-0.309L0.951,-0.309L0.3633,0.118L0.5878,0.809L0,0.382L-0.5878,0.809L-0.3633,0.118L-0.951,-0.309L-0.2245,-0.309Z","filled":true,"color":"#ff0000","size":70,"opacity":1},"encoding":{}}
]},
{"width":87,"height":81,
"encoding":{"x":{"field":"x","type":"quantitative","scale":{"domain":[-0.022,0.112],"nice":false,"zero":false},"axis":{"values":[0,0.05,0.1],"format":"~g","title":null}},
"y":{"field":"y","type":"quantitative","scale":{"domain":[-0.1,0.5],"nice":false,"zero":false},"axis":{"values":[0,0.2,0.4],"format":"~g","title":null}}},
"layer":[
{"data":{"name":"c"},"transform":[{"filter":"datum.p=='G'"}],"mark":{"type":"line","clip":true,"interpolate":"catmull-rom","strokeWidth":1},"encoding":{"color":{"field":"v","type":"quantitative","scale":{"domain":[0.64,0.75],"range":["#352a87","#0f5cdd","#1481d6","#06a4ca","#2eb7a4","#87bf77","#d1bb59","#fec832","#f9fb0e"]},"legend":null},"detail":{"field":"k"},"order":{"value":null}}},
{"data":{"name":"t"},"transform":[{"filter":"datum.p=='G'"}],"mark":{"type":"text","angle":55,"fontSize":6,"font":"Liberation Serif","color":"#333"},"encoding":{"text":{"field":"s"}}},
{"data":{"name":"n"},"transform":[{"filter":"datum.p=='G' && datum.k=='m'"}],"mark":{"type":"text","align":"left","fontSize":11,"font":"Liberation Serif","fontStyle":"italic","color":"#222"},"encoding":{"text":{"field":"s"}}},
{"data":{"name":"n"},"transform":[{"filter":"datum.p=='G' && datum.k=='b'"}],"mark":{"type":"text","align":"left","fontSize":7.5,"font":"Liberation Serif","color":"#222"},"encoding":{"text":{"field":"s"}}},
{"data":{"name":"s"},"mark":{"type":"point","shape":"M0,-1L0.2245,-0.309L0.951,-0.309L0.3633,0.118L0.5878,0.809L0,0.382L-0.5878,0.809L-0.3633,0.118L-0.951,-0.309L-0.2245,-0.309Z","filled":true,"color":"#ff0000","size":70,"opacity":1},"encoding":{}}
]},
{"width":87,"height":81,
"encoding":{"x":{"field":"x","type":"quantitative","scale":{"domain":[-0.022,0.112],"nice":false,"zero":false},"axis":{"values":[0,0.05,0.1],"format":"~g","title":"(J₃ₐ − J₂)/J₁"}},
"y":{"field":"y","type":"quantitative","scale":{"domain":[-0.1,0.5],"nice":false,"zero":false},"axis":{"values":[0,0.2,0.4],"format":"~g","labels":false,"title":null}}},
"layer":[
{"data":{"name":"c"},"transform":[{"filter":"datum.p=='H'"}],"mark":{"type":"line","clip":true,"interpolate":"catmull-rom","strokeWidth":1},"encoding":{"color":{"field":"v","type":"quantitative","scale":{"domain":[0.06,0.092],"range":["#352a87","#0f5cdd","#1481d6","#06a4ca","#2eb7a4","#87bf77","#d1bb59","#fec832","#f9fb0e"]},"legend":null},"detail":{"field":"k"},"order":{"value":null}}},
{"data":{"name":"t"},"transform":[{"filter":"datum.p=='H'"}],"mark":{"type":"text","angle":30,"fontSize":6,"font":"Liberation Serif","color":"#333"},"encoding":{"text":{"field":"s"}}},
{"data":{"name":"n"},"transform":[{"filter":"datum.p=='H' && datum.k=='m'"}],"mark":{"type":"text","align":"left","fontSize":11,"font":"Liberation Serif","fontStyle":"italic","color":"#222"},"encoding":{"text":{"field":"s"}}},
{"data":{"name":"n"},"transform":[{"filter":"datum.p=='H' && datum.k=='b'"}],"mark":{"type":"text","align":"left","fontSize":7.5,"font":"Liberation Serif","color":"#222"},"encoding":{"text":{"field":"s"}}},
{"data":{"name":"s"},"mark":{"type":"point","shape":"M0,-1L0.2245,-0.309L0.951,-0.309L0.3633,0.118L0.5878,0.809L0,0.382L-0.5878,0.809L-0.3633,0.118L-0.951,-0.309L-0.2245,-0.309Z","filled":true,"color":"#ff0000","size":70,"opacity":1},"encoding":{}}
]},
{"width":87,"height":81,
"encoding":{"x":{"field":"x","type":"quantitative","scale":{"domain":[-0.022,0.112],"nice":false,"zero":false},"axis":{"values":[0,0.05,0.1],"format":"~g","title":null}},
"y":{"field":"y","type":"quantitative","scale":{"domain":[-0.1,0.5],"nice":false,"zero":false},"axis":{"values":[0,0.2,0.4],"format":"~g","labels":false,"title":null}}},
"layer":[
{"data":{"name":"c"},"transform":[{"filter":"datum.p=='I'"}],"mark":{"type":"line","clip":true,"interpolate":"catmull-rom","strokeWidth":1},"encoding":{"color":{"field":"v","type":"quantitative","scale":{"domain":[0.2,0.66],"range":["#352a87","#0f5cdd","#1481d6","#06a4ca","#2eb7a4","#87bf77","#d1bb59","#fec832","#f9fb0e"]},"legend":null},"detail":{"field":"k"},"order":{"value":null}}},
{"data":{"name":"t"},"transform":[{"filter":"datum.p=='I'"}],"mark":{"type":"text","angle":80,"fontSize":6,"font":"Liberation Serif","color":"#333"},"encoding":{"text":{"field":"s"}}},
{"data":{"name":"n"},"transform":[{"filter":"datum.p=='I' && datum.k=='m'"}],"mark":{"type":"text","align":"left","fontSize":11,"font":"Liberation Serif","fontStyle":"italic","color":"#222"},"encoding":{"text":{"field":"s"}}},
{"data":{"name":"n"},"transform":[{"filter":"datum.p=='I' && datum.k=='b'"}],"mark":{"type":"text","align":"left","fontSize":7.5,"font":"Liberation Serif","color":"#222"},"encoding":{"text":{"field":"s"}}},
{"data":{"name":"s"},"mark":{"type":"point","shape":"M0,-1L0.2245,-0.309L0.951,-0.309L0.3633,0.118L0.5878,0.809L0,0.382L-0.5878,0.809L-0.3633,0.118L-0.951,-0.309L-0.2245,-0.309Z","filled":true,"color":"#ff0000","size":70,"opacity":1},"encoding":{}}
]}
],
"resolve":{"scale":{"color":"independent"}},
"config":{
"view":{"stroke":"#8c8c8c","strokeWidth":1},
"axis":{"domain":false,"grid":false,"tickSize":-3,"tickColor":"#8c8c8c","labelFont":"Liberation Serif","labelFontSize":9,"labelColor":"#444","labelPadding":2,"titleFont":"Liberation Serif","titleFontSize":10,"titleFontWeight":"normal","titleColor":"#333","titlePadding":1}
}
}
